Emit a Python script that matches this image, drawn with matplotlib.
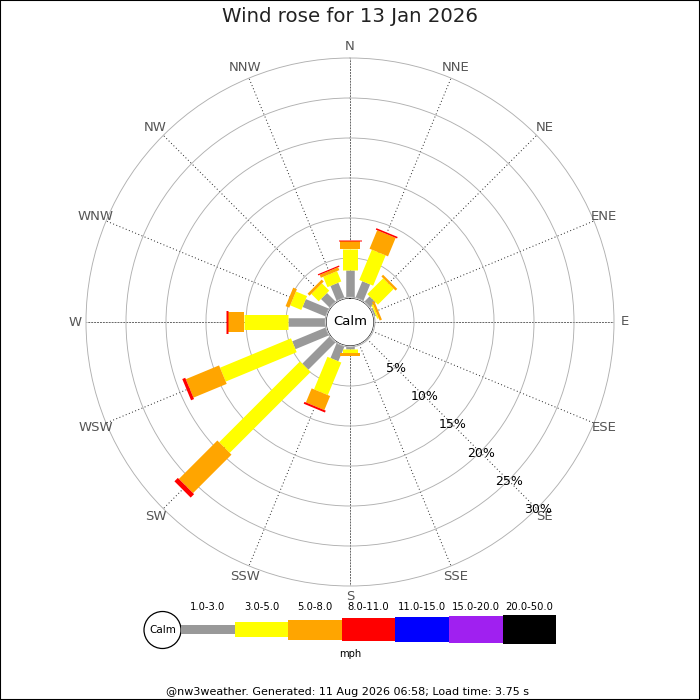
import numpy as np
import matplotlib
matplotlib.use('Agg')
import matplotlib.pyplot as plt
from matplotlib.patches import Circle, Rectangle

# ---------------- data ----------------
title = 'Wind rose for 13 Jan 2026'
directions = ['N', 'NNE', 'NE', 'ENE', 'E', 'ESE', 'SE', 'SSE',
              'S', 'SSW', 'SW', 'WSW', 'W', 'WNW', 'NW', 'NNW']
speed_bins = ['1.0-3.0', '3.0-5.0', '5.0-8.0', '8.0-11.0',
              '11.0-15.0', '15.0-20.0', '20.0-50.0']
# frequency (%) per direction for each speed bin
freq_1_3 = [3.5, 2.3, 1.0, 0.3, 0, 0, 0, 0, 0.4, 2.1, 4.9, 4.6, 4.7, 3.2, 1.6, 2.1]
freq_3_5 = [2.6, 4.1, 2.8, 0.2, 0, 0, 0, 0, 0.5, 4.4, 14.3, 9.6, 5.6, 1.5, 1.3, 1.4]
freq_5_8 = [1.0, 2.5, 0.3, 0.3, 0, 0, 0, 0, 0.3, 1.9, 6.8, 4.5, 1.9, 0.5, 0.35, 0.4]
freq_8_11 = [0.15, 0.2, 0, 0, 0, 0, 0, 0, 0, 0.25, 0.6, 0.4, 0.3, 0, 0, 0.15]
freq_11_15 = [0, 0, 0, 0, 0, 0, 0, 0, 0, 0, 0, 0, 0, 0, 0, 0]
freq_15_20 = [0, 0, 0, 0, 0, 0, 0, 0, 0, 0, 0, 0, 0, 0, 0, 0]
freq_20_50 = [0, 0, 0, 0, 0, 0, 0, 0, 0, 0, 0, 0, 0, 0, 0, 0]
ring_ticks = [5, 10, 15, 20, 25, 30]
unit_label = 'mph'
footer = '@nw3weather. Generated: 11 Aug 2026 06:58; Load time: 3.75 s'

series = [freq_1_3, freq_3_5, freq_5_8, freq_8_11, freq_11_15, freq_15_20, freq_20_50]

# ---------------- style ----------------
colors = ['#999999', '#ffff00', '#ffa500', '#ff0000', '#0000ff', '#a020f0', '#000000']
widths_px = [8.5, 15, 20, 23, 25, 27, 29]
PX2PT = 72.0 / 100.0

S = 700
cx, cy, R = 350, 322, 264
calm_px = 24
px_per_pct = 8.0

fig = plt.figure(figsize=(7, 7), dpi=100)
fig.patch.set_facecolor('white')

ax = fig.add_axes([(cx - R) / S, (S - cy - R) / S, 2 * R / S, 2 * R / S],
                  projection='polar')
ax.set_theta_zero_location('N')
ax.set_theta_direction(-1)
rmax = ring_ticks[-1]
ax.set_ylim(0, rmax)
ax.set_rorigin(-calm_px / px_per_pct)
ax.set_xticks([])
ax.set_yticks(ring_ticks[:-1])
ax.set_yticklabels([])
ax.yaxis.grid(True, color='#b0b0b0', lw=0.65, ls='-')
ax.xaxis.grid(False)
for name, sp in ax.spines.items():
    if name == 'polar':
        sp.set_color('#b0b0b0')
        sp.set_linewidth(0.65)
    else:
        sp.set_visible(False)

thetas = np.deg2rad(np.arange(len(directions)) * 22.5)

# radial direction lines
for i, th in enumerate(thetas):
    if i % 4 == 0:
        ax.plot([th, th], [0, rmax], color='#666666', lw=0.7,
                ls=(0, (2, 1)), zorder=1)
    else:
        ax.plot([th, th], [0, rmax], color='#222222', lw=0.7,
                ls=(0, (1, 2.5)), zorder=1)

# bars
for i, th in enumerate(thetas):
    bottom = 0.0
    for j, s in enumerate(series):
        v = s[i]
        if v > 0:
            ax.plot([th, th], [bottom, bottom + v], color=colors[j],
                    lw=widths_px[j] * PX2PT, solid_capstyle='butt', zorder=3 + j)
            bottom += v

# calm circle
ax.add_patch(Circle((0.5, 0.5), calm_px / (2 * R) * 1.04, transform=ax.transAxes,
                    facecolor='white', edgecolor='#b0b0b0', lw=0.7, zorder=20))
ax.text(0.5, 0.5, 'Calm', transform=ax.transAxes, ha='center', va='center',
        fontsize=9.5, color='black', zorder=21)

# direction labels
label_r = (275 - calm_px) / px_per_pct
for d, th in zip(directions, thetas):
    ax.text(th, label_r, d, ha='center', va='center', fontsize=9.5,
            color='#555555', clip_on=False)

# percent labels along SE
for r in ring_ticks:
    ax.text(np.deg2rad(135), r + 0.2, f'{r}%', ha='center', va='center',
            fontsize=9, color='black', zorder=25, clip_on=False)

# ---------------- overlay (title, legend, footer) ----------------
ov = fig.add_axes([0, 0, 1, 1])
ov.set_xlim(0, S)
ov.set_ylim(S, 0)
ov.axis('off')

ov.text(350, 17, title, ha='center', va='center', fontsize=14.2, color='#222222')

leg_y = 629.5
leg_x0 = 181.0
leg_len = 53.6
ov.add_patch(Circle((162.5, 630), 18.5, facecolor='white', edgecolor='black', lw=0.9))
ov.text(162.5, 630, 'Calm', ha='center', va='center', fontsize=7.5, color='black')
for j, lab in enumerate(speed_bins):
    left = leg_x0 + j * leg_len
    ov.barh(leg_y, leg_len, left=left, height=widths_px[j], color=colors[j],
            edgecolor='none')
    ov.text(left + leg_len / 2, 607, lab, ha='center', va='center',
            fontsize=7.2, color='black')
ov.text(350, 654, unit_label, ha='center', va='center', fontsize=7.2, color='black')
ov.text(347.5, 692, footer, ha='center', va='center', fontsize=8, color='black')

fig.patches.append(Rectangle((0, 0), 1, 1, transform=fig.transFigure, fill=False,
                             edgecolor='black', lw=1.5))

fig.savefig('out.png', dpi=100)
